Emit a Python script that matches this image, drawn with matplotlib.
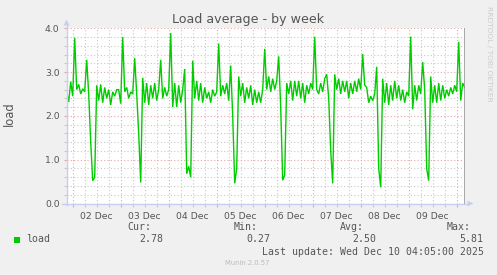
import numpy as np
import matplotlib
matplotlib.use("Agg")
import matplotlib.pyplot as plt
from matplotlib.ticker import MultipleLocator, FuncFormatter, FixedLocator
from matplotlib.patches import Rectangle, Polygon
from matplotlib.lines import Line2D

# ---------------- data (hourly averages, hour 0 = 02 Dec 00:00) ----------------
start_hour = -3
load = [
    2.55, 2.32, 2.78,
    # 02 Dec
    2.45, 3.78, 2.60, 2.72, 2.50, 2.62, 2.55, 3.28, 2.50, 1.40, 0.52, 0.60,
    2.70, 2.35, 2.72, 2.30, 2.65, 2.40, 2.60, 2.25, 2.55, 2.45, 2.60, 2.60,
    # 03 Dec
    2.28, 3.80, 2.55, 2.65, 2.40, 2.55, 2.50, 3.32, 2.50, 1.60, 0.48, 2.87,
    2.30, 2.75, 2.25, 2.70, 2.40, 2.75, 2.35, 2.60, 3.28, 2.40, 2.65, 2.45,
    # 04 Dec
    2.60, 3.89, 2.20, 2.75, 2.20, 2.70, 2.30, 2.60, 3.07, 0.68, 0.85, 0.60,
    3.26, 2.40, 2.80, 2.35, 2.75, 2.30, 2.65, 2.40, 2.55, 2.30, 2.60, 2.45,
    # 05 Dec
    2.55, 3.65, 2.45, 2.70, 2.50, 2.75, 2.35, 3.15, 2.00, 0.46, 0.80, 2.90,
    2.45, 2.75, 2.30, 2.65, 2.40, 2.70, 2.25, 2.60, 2.30, 2.55, 2.30, 2.60,
    # 06 Dec
    3.53, 2.60, 2.90, 2.55, 2.85, 2.60, 2.80, 3.36, 2.20, 0.53, 0.65, 2.75,
    2.50, 2.80, 2.35, 2.80, 2.45, 2.80, 2.40, 2.75, 2.30, 2.70, 2.50, 2.75,
    # 07 Dec
    2.60, 3.81, 2.60, 2.50, 2.75, 2.55, 2.85, 2.95, 2.40, 1.20, 0.46, 2.95,
    2.60, 2.85, 2.50, 2.80, 2.55, 2.80, 2.40, 2.75, 2.50, 2.80, 2.55, 2.85,
    # 08 Dec
    2.60, 3.41, 2.70, 2.65, 2.30, 2.45, 2.35, 2.50, 3.12, 0.80, 0.37, 2.85,
    2.30, 2.75, 2.25, 2.70, 2.35, 2.80, 2.40, 2.70, 2.35, 2.60, 2.30, 2.55,
    # 09 Dec
    2.45, 3.81, 2.15, 2.70, 2.35, 2.70, 2.50, 3.23, 2.60, 0.80, 0.52, 2.90,
    2.30, 2.70, 2.30, 2.75, 2.35, 2.70, 2.40, 2.60, 2.45, 2.65, 2.50, 2.70,
    # 10 Dec
    2.55, 3.69, 2.35, 2.75, 2.65,
]
hours = start_hour + np.arange(len(load))

day_labels = ["02 Dec", "03 Dec", "04 Dec", "05 Dec", "06 Dec", "07 Dec", "08 Dec", "09 Dec"]
ytick_vals = [0.0, 1.0, 2.0, 3.0, 4.0]
title = "Load average - by week"
ylabel = "load"
series_name = "load"
stat_names = ["Cur:", "Min:", "Avg:", "Max:"]
stat_vals = ["2.78", "0.27", "2.50", "5.81"]
last_update = "Last update: Wed Dec 10 04:05:00 2025"
version = "Munin 2.0.57"
watermark = "RRDTOOL / TOBI OETIKER"

# ---------------- figure ----------------
W, H = 497, 275
fig = plt.figure(figsize=(W / 100, H / 100), dpi=100, facecolor="#F0F0F0")

def fx(x):
    return x / W

def fy(y):
    return 1 - y / H

ax_l, ax_r, ax_t, ax_b = 66.5, 465.0, 28.3, 203.5
ax = fig.add_axes([fx(ax_l), fy(ax_b), (ax_r - ax_l) / W, (ax_b - ax_t) / H])
ax.set_facecolor("white")
ax.set_xlim(-3.1, 196.15)
ax.set_ylim(0, 4.0)

for s in ax.spines.values():
    s.set_visible(False)

TXT = "#555555"
GRID_MIN = "#C8C8C8"
GRID_MAJ = "#E3A8A8"
AXIS_C = "#C9CFF2"

# x ticks / grid
ax.xaxis.set_major_locator(MultipleLocator(24))
ax.xaxis.set_minor_locator(MultipleLocator(6))

def xfmt(v, pos):
    k = int(round(v))
    if k % 24 == 12:
        i = (k - 12) // 24
        if 0 <= i < len(day_labels):
            return day_labels[i]
    return ""

ax.xaxis.set_major_formatter(FuncFormatter(lambda v, p: ""))
ax.xaxis.set_minor_formatter(FuncFormatter(xfmt))
ax.yaxis.set_major_locator(FixedLocator(ytick_vals))
ax.yaxis.set_minor_locator(MultipleLocator(0.2))
ax.yaxis.set_major_formatter(FuncFormatter(lambda v, p: f"{v:.1f}"))

ax.grid(which="major", color=GRID_MAJ, linestyle=(0, (1, 2)), linewidth=0.8)
ax.grid(which="minor", color=GRID_MIN, linestyle=(0, (1, 2)), linewidth=0.8)
ax.set_axisbelow(True)

ax.tick_params(axis="x", which="major", length=2, width=0.8, color=GRID_MAJ, pad=4)
ax.tick_params(axis="x", which="minor", length=2, width=0.8, color=GRID_MIN,
               labelsize=6.7, labelcolor=TXT, pad=4)
ax.tick_params(axis="y", which="major", length=2, width=0.8, color=GRID_MAJ,
               labelsize=6.7, labelcolor=TXT, pad=3)
ax.tick_params(axis="y", which="minor", length=2, width=0.8, color=GRID_MIN)

# data line
ax.plot(hours, load, color="#00CC00", linewidth=1.0, solid_joinstyle="miter", zorder=3)

# right edge line
ax.axvline(196.15, color="#9A9A9A", linewidth=1.2, zorder=4)

# axes with arrows (figure pixel coords)
fig.lines.append(Line2D([fx(ax_l), fx(ax_l)], [fy(ax_b + 1), fy(23)],
                        color=AXIS_C, linewidth=1.0, transform=fig.transFigure))
fig.patches.append(Polygon([[fx(63.5), fy(25.5)], [fx(69.5), fy(25.5)], [fx(66.5), fy(19.5)]],
                           closed=True, facecolor=AXIS_C, edgecolor="none",
                           transform=fig.transFigure))
fig.lines.append(Line2D([fx(62), fx(468)], [fy(ax_b), fy(ax_b)],
                        color=AXIS_C, linewidth=1.0, transform=fig.transFigure))
fig.patches.append(Polygon([[fx(467.5), fy(200.5)], [fx(467.5), fy(206.5)], [fx(473.5), fy(203.5)]],
                           closed=True, facecolor=AXIS_C, edgecolor="none",
                           transform=fig.transFigure))

# title, labels
fig.text(fx(248), fy(19.5), title, ha="center", va="center", fontsize=9.1, color=TXT)
fig.text(fx(9), fy(114), ylabel, ha="center", va="center", rotation=90, fontsize=8.3, color=TXT)
fig.text(fx(488.5), fy(53.5), watermark, ha="center", va="center", rotation=270,
         fontsize=5.4, color="#CCCCCC")

# legend
mono = "DejaVu Sans Mono"
fs = 7.1
fig.patches.append(Rectangle((fx(14), fy(242.5)), 6 / W, 6 / H, facecolor="#00CC00",
                             edgecolor="none", transform=fig.transFigure))
fig.text(fx(26), fy(239.5), series_name, ha="left", va="center", family=mono, fontsize=fs, color=TXT)
name_x = [127.5, 234.0, 340.0, 446.5]
val_x = [139.3, 246.0, 352.3, 459.3]
for nx, vx, n, v in zip(name_x, val_x, stat_names, stat_vals):
    fig.text(fx(nx), fy(227.3), n, ha="left", va="center", family=mono, fontsize=fs, color=TXT)
    fig.text(fx(vx), fy(239.5), v, ha="left", va="center", family=mono, fontsize=fs, color=TXT)
fig.text(fx(261.5), fy(251.7), last_update, ha="left", va="center", family=mono, fontsize=fs, color=TXT)
fig.text(fx(247.5), fy(263.3), version, ha="center", va="center", fontsize=4.9, color="#BBBBBB")

fig.savefig("out.png", dpi=100, facecolor=fig.get_facecolor())
